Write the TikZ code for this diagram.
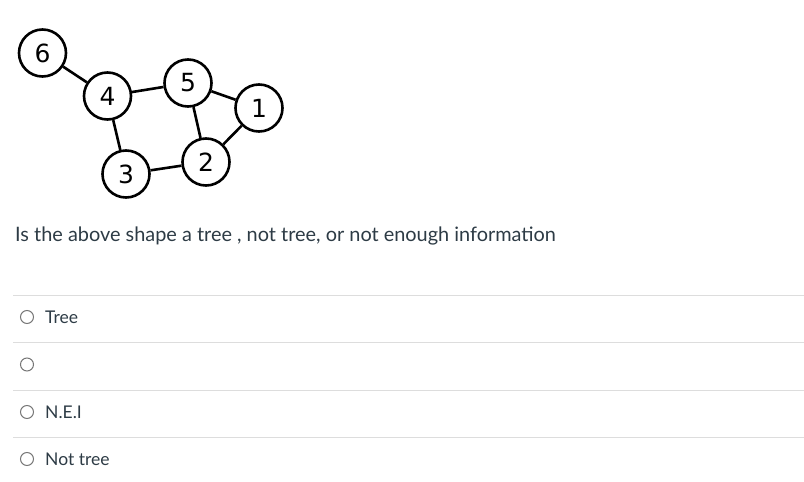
\documentclass[tikz,border=0pt]{standalone}
\usepackage{fontspec}
\usepackage{xcolor}
\usetikzlibrary{calc}
\newfontfamily\latofont{Lato}
\newfontfamily\numfont{DejaVu Sans}
\definecolor{canvastext}{HTML}{2D3B45}
\definecolor{rulegray}{HTML}{DDDDDD}
\definecolor{radiogray}{HTML}{777777}

\begin{document}
\begin{tikzpicture}[x=1pt,y=-1pt,
        vertex/.style={circle,draw,line width=2.6pt,minimum size=47pt,inner sep=0pt,font=\numfont\fontsize{25}{25}\selectfont},
        edge/.style={line width=2.6pt},
        rowline/.style={draw=rulegray,line width=1.2pt},
        radio/.style={circle,draw=radiogray,line width=1pt,minimum size=13pt,inner sep=0pt},
        answer/.style={anchor=base west,inner sep=0pt,text=canvastext,font=\latofont\fontsize{17.5}{17.5}\selectfont}]
        \useasboundingbox (0,0) rectangle (804,482);

        \node[vertex] (v6) at (42.5,53) {6};
        \node[vertex] (v4) at (107.5,96) {4};
        \node[vertex] (v5) at (188,83) {5};
        \node[vertex] (v1) at (259,108) {1};
        \node[vertex] (v3) at (126,174) {3};
        \node[vertex] (v2) at (206,162) {2};
        \draw[edge] (v6)--(v4);
        \draw[edge] (v4)--(v5);
        \draw[edge] (v4)--(v3);
        \draw[edge] (v5)--(v1);
        \draw[edge] (v5)--(v2);
        \draw[edge] (v1)--(v2);
        \draw[edge] (v3)--(v2);

        \node[anchor=base west,inner sep=0pt,text=canvastext,font=\latofont\fontsize{19.9}{19.9}\selectfont] (question) at (15,241) {Is the above shape a tree , not tree, or not enough information};

        \foreach \y in {295.3,342.3,390.3,437.3}
            \draw[rowline] (13.3,\y)--(804,\y);

        \node[radio] (r1) at (27,317) {};
        \node[radio] (r2) at (27,364.5) {};
        \node[radio] (r3) at (27,412) {};
        \node[radio] (r4) at (27,459) {};
        \node[answer] (a1) at (45,323.3) {Tree};
        \node[answer] (a3) at (45,418.3) {N.E.I};
        \node[answer] (a4) at (45,465.3) {Not tree};
    \end{tikzpicture}
\end{document}
